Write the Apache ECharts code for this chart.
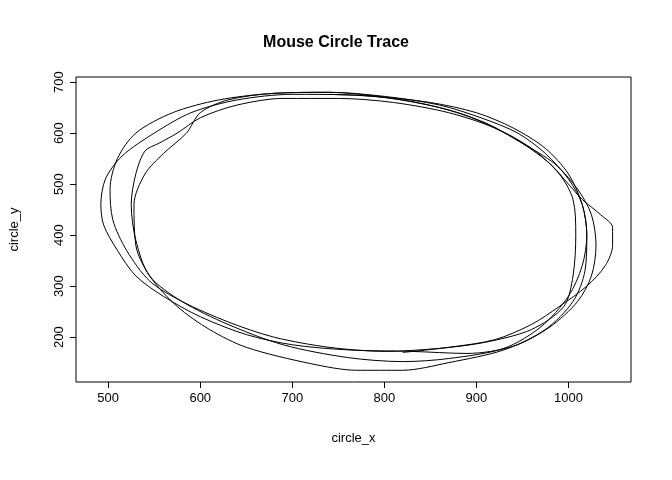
<!DOCTYPE html>
<html><head><meta charset="utf-8">
<script src="https://cdn.jsdelivr.net/npm/echarts@6/dist/echarts.min.js"></script>
<style>html,body{margin:0;padding:0;background:#fff}#c{width:672px;height:480px}</style>
</head><body><div id="c"></div>
<script>
const xTicks=[500,600,700,800,900,1000];
const yTicks=[200,300,400,500,600,700];
const circle_x=[820,870,920,960,990,1020,1040,1048,1048,1035,1015,1000,980,950,920,880,820,760,700,640,590,550,515,497,492,495,510,530,560,600,650,700,760,830,890,940,980,1010,1025,1030,1025,1010,985,950,910,860,800,740,680,620,570,530,510,502,505,520,545,580,630,680,740,800,860,910,960,995,1005,1008,1005,990,960,920,870,810,750,690,640,600,575,555,540,530,525,530,545,580,630,690,760,820,870,930,970,1000,1015,1020,1015,1000,975,945,905,860,800,740,680,630,600,585,560,540,528,530,545,575,610,650,720,770,820,870,930,975,1005,1018,1020,1015,1000,975,940,900,850,790,740];
const circle_y=[170,180,195,225,260,300,340,380,415,440,470,500,540,580,610,640,665,675,676,665,640,600,555,510,460,420,370,320,280,240,205,185,175,172,168,182,220,270,320,380,440,490,540,580,620,650,670,680,678,665,640,600,550,490,430,370,310,270,230,200,180,172,178,190,215,260,320,400,470,520,570,610,640,660,668,668,655,630,600,580,565,520,460,390,320,270,225,185,160,152,158,178,220,280,340,400,460,510,560,600,630,655,672,680,678,665,640,600,560,520,460,380,320,260,215,180,148,135,135,150,175,215,270,330,400,460,520,570,610,640,660,672,676];
const data=circle_x.map((x,i)=>[x,circle_y[i]]);
const ch=echarts.init(document.getElementById('c'));
const ax={color:'#000',fontSize:13,fontFamily:'Liberation Sans'};
ch.setOption({
 animation:false,
 title:{text:'Mouse Circle Trace',left:'center',top:30,textStyle:{fontSize:16,fontWeight:'bold',color:'#000',fontFamily:'Liberation Sans'}},
 grid:{left:76,right:41,top:77,bottom:98,show:true,borderColor:'#000',borderWidth:1,backgroundColor:'transparent'},
 xAxis:{type:'value',min:465,max:1068,name:'circle_x',nameLocation:'middle',nameGap:50,nameTextStyle:ax,
  axisLine:{show:false},splitLine:{show:false},
  axisTick:{show:true,length:6,lineStyle:{color:'#000'},customValues:xTicks},
  axisLabel:{...ax,margin:10,customValues:xTicks,formatter:v=>String(v)}},
 yAxis:{type:'value',min:112,max:710,name:'circle_y',nameLocation:'middle',nameGap:55,nameTextStyle:ax,
  axisLine:{show:false},splitLine:{show:false},
  axisTick:{show:true,length:6,lineStyle:{color:'#000'},customValues:yTicks},
  axisLabel:{...ax,rotate:90,margin:10,customValues:yTicks,formatter:v=>String(v)}},
 series:[{type:'line',data:data,showSymbol:false,smooth:0.3,lineStyle:{color:'#000',width:1}}]
});
</script></body></html>
